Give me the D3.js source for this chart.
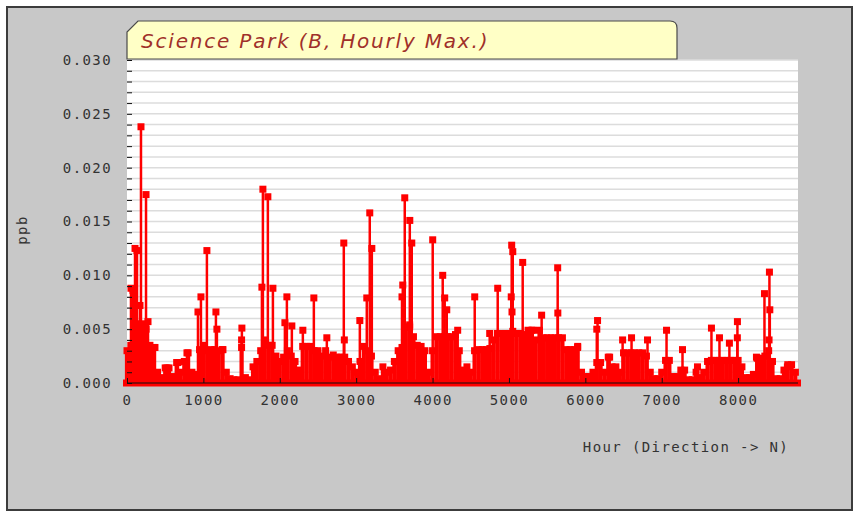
<!DOCTYPE html>
<html>
<head>
<meta charset="utf-8">
<script src="https://cdn.jsdelivr.net/npm/d3@7"></script>
<style>
  body { margin: 0; background: #fff; }
  text { font-family: "DejaVu Sans Mono", monospace; }
</style>
</head>
<body>
<svg width="856" height="515"></svg>
<script>
// Chart text
var title = "Science Park (B, Hourly Max.)";
var xTitle = "Hour (Direction -> N)";
var yTitle = "ppb";

// Tick labels
var xTickValues = [0, 1000, 2000, 3000, 4000, 5000, 6000, 7000, 8000];
var yTickValues = [0, 0.005, 0.010, 0.015, 0.020, 0.025, 0.030];

// Background level of the hourly max, one reading every 50 hours (ppb)
var baseStep = 50;
var baseLevel = [
  0.0030, 0.0035, 0.0040, 0.0055, 0.0055, 0.0050, 0.0035, 0.0033, 0.0010, 0.0005,
  0.0014, 0.0014, 0.0006, 0.0019, 0.0010, 0.0020, 0.0028, 0.0010, 0.0008, 0.0031,
  0.0035, 0.0030, 0.0031, 0.0031, 0.0030, 0.0031, 0.0010, 0.0004, 0.0003, 0.0003,
  0.0033, 0.0005, 0.0003, 0.0015, 0.0020, 0.0030, 0.0040, 0.0035, 0.0035, 0.0025,
  0.0020, 0.0024, 0.0030, 0.0025, 0.0020, 0.0012, 0.0034, 0.0034, 0.0034, 0.0030,
  0.0030, 0.0025, 0.0030, 0.0024, 0.0026, 0.0024, 0.0024, 0.0024, 0.0020, 0.0015,
  0.0010, 0.0020, 0.0034, 0.0030, 0.0025, 0.0010, 0.0004, 0.0015, 0.0010, 0.0012,
  0.0020, 0.0030, 0.0033, 0.0052, 0.0052, 0.0043, 0.0035, 0.0034, 0.0030, 0.0010,
  0.0030, 0.0043, 0.0043, 0.0043, 0.0043, 0.0043, 0.0045, 0.0030, 0.0012, 0.0015,
  0.0010, 0.0030, 0.0031, 0.0031, 0.0031, 0.0032, 0.0040, 0.0046, 0.0046, 0.0046,
  0.0046, 0.0048, 0.0046, 0.0046, 0.0045, 0.0049, 0.0049, 0.0040, 0.0049, 0.0042,
  0.0042, 0.0042, 0.0042, 0.0042, 0.0042, 0.0031, 0.0031, 0.0031, 0.0034, 0.0010,
  0.0006, 0.0006, 0.0010, 0.0019, 0.0019, 0.0010, 0.0024, 0.0015, 0.0015, 0.0010,
  0.0028, 0.0028, 0.0028, 0.0028, 0.0028, 0.0028, 0.0025, 0.0010, 0.0004, 0.0004,
  0.0010, 0.0021, 0.0021, 0.0006, 0.0006, 0.0012, 0.0012, 0.0003, 0.0003, 0.0010,
  0.0005, 0.0010, 0.0020, 0.0021, 0.0021, 0.0021, 0.0021, 0.0021, 0.0021, 0.0021,
  0.0021, 0.0015, 0.0005, 0.0005, 0.0008, 0.0023, 0.0023, 0.0025, 0.0030, 0.0020,
  0.0004, 0.0004, 0.0012, 0.0017, 0.0017, 0.0010
];

// Individual spikes above the background
var peakHours = [
  52, 78, 105, 131, 170, 183, 249, 275, 366, 523,
  667, 785, 929, 968, 1046, 1164, 1177, 1256, 1500, 1504,
  1766, 1779, 1844, 1910, 2067, 2093, 2158, 2302, 2446, 2616,
  2838, 2845, 3048, 3139, 3178, 3205, 3600, 3610, 3636, 3700,
  3702, 3728, 4002, 4133, 4159, 4186, 4329, 4552, 4748, 4853,
  5030, 5036, 5040, 5050, 5180, 5311, 5428, 5638, 5640, 5899,
  6150, 6160, 6318, 6488, 6605, 6814, 7063, 7272, 7468, 7651,
  7756, 7886, 7990, 7991, 8240, 8345, 8405, 8410, 8415, 8645
];
var peakValues = [
  0.0088, 0.0086, 0.0125, 0.0123, 0.0072, 0.0238, 0.0175, 0.0057, 0.0033, 0.0014,
  0.0019, 0.0028, 0.0066, 0.0080, 0.0123, 0.0066, 0.0050, 0.0031, 0.0040, 0.0051,
  0.0089, 0.0180, 0.0173, 0.0088, 0.0056, 0.0080, 0.0053, 0.0049, 0.0079, 0.0042,
  0.0130, 0.0040, 0.0058, 0.0079, 0.0158, 0.0125, 0.0080, 0.0091, 0.0172, 0.0054,
  0.0151, 0.0130, 0.0133, 0.0100, 0.0079, 0.0068, 0.0049, 0.0080, 0.0046, 0.0088,
  0.0080, 0.0128, 0.0066, 0.0122, 0.0112, 0.0049, 0.0063, 0.0107, 0.0065, 0.0033,
  0.0050, 0.0058, 0.0024, 0.0040, 0.0042, 0.0040, 0.0049, 0.0031, 0.0015, 0.0051,
  0.0042, 0.0037, 0.0042, 0.0057, 0.0024, 0.0083, 0.0040, 0.0103, 0.0068, 0.0015
];

var svg = d3.select("svg");

var x = d3.scaleLinear().domain([0, 8784]).range([127, 798]);
var y = d3.scaleLinear().domain([0, 0.030]).range([383, 60]);

// outer panel
svg.append("rect")
  .attr("x", 7).attr("y", 7)
  .attr("width", 845).attr("height", 503)
  .attr("fill", "#c8c8c8")
  .attr("stroke", "#3c3c3c")
  .attr("stroke-width", 2);

// plot area
svg.append("rect")
  .attr("x", x(0)).attr("y", y(0.030))
  .attr("width", x(8784) - x(0))
  .attr("height", y(0) - y(0.030))
  .attr("fill", "#fff");

// horizontal grid every 0.001
svg.append("g")
  .selectAll("line")
  .data(y.ticks(30).filter((d) => d > 0))
  .enter()
  .append("line")
  .attr("x1", x(0)).attr("x2", x(8784))
  .attr("y1", (d) => y(d)).attr("y2", (d) => y(d))
  .attr("stroke", "#dcdcdc")
  .attr("stroke-width", 1.5);

// title tab
svg.append("path")
  .attr("d", "M127,59 V32 L138,21 H670 Q677,21 677,28 V59 Z")
  .attr("fill", "#ffffc6")
  .attr("stroke", "#4a4a4a")
  .attr("stroke-width", 1.2);

svg.append("text")
  .attr("x", 141).attr("y", 48)
  .style("font-family", "'DejaVu Sans', sans-serif")
  .style("font-style", "italic")
  .style("font-size", "20px")
  .style("letter-spacing", "1.8px")
  .attr("fill", "#a0302a")
  .text(title);

// data
var base = baseLevel.map((v, i) => ({ hour: i * baseStep, value: v }));
var peaks = peakHours.map((h, i) => ({ hour: h, value: peakValues[i] }));

const g = svg.append("g").attr("class", "main-container");

// readings at zero form the thick band along the bottom
g.append("line")
  .attr("x1", x(0) - 4).attr("x2", x(8784) + 3)
  .attr("y1", y(0)).attr("y2", y(0))
  .attr("stroke", "#ff0000")
  .attr("stroke-width", 7);

function drawStems(data, cls, width) {
  g.selectAll("line." + cls)
    .data(data)
    .enter()
    .append("line")
    .attr("class", cls)
    .attr("x1", (d) => x(d.hour)).attr("x2", (d) => x(d.hour))
    .attr("y1", y(0)).attr("y2", (d) => y(d.value))
    .attr("stroke", "#ff0000")
    .attr("stroke-width", width);

  g.selectAll("rect." + cls)
    .data(data)
    .enter()
    .append("rect")
    .attr("class", cls)
    .attr("x", (d) => x(d.hour) - 3.5)
    .attr("y", (d) => y(d.value) - 3.5)
    .attr("width", 7).attr("height", 7)
    .attr("fill", "#ff0000");
}

drawStems(base, "base", 4.2);
drawStems(peaks, "peak", 2.5);

// y axis: minor ticks every 0.001, labels every 0.005
svg.append("g")
  .attr("transform", `translate(${x(0)},0)`)
  .call(d3.axisLeft(y).ticks(30).tickSize(-5).tickFormat(""))
  .call((a) => a.select(".domain").remove())
  .call((a) => a.selectAll("line").attr("stroke", "#111"));

svg.append("g")
  .attr("transform", `translate(${x(0)},0)`)
  .call(d3.axisLeft(y).tickValues(yTickValues).tickSize(0).tickPadding(15).tickFormat(d3.format(".3f")))
  .call((a) => a.select(".domain").remove())
  .call((a) => a.selectAll("text")
    .style("font-family", "'DejaVu Sans Mono', monospace")
    .style("font-size", "14px")
    .style("letter-spacing", "1.4px")
    .attr("fill", "#333"));

// x axis
svg.append("g")
  .attr("transform", `translate(0,${y(0)})`)
  .call(d3.axisBottom(x).tickValues(xTickValues).tickSize(-5).tickPadding(12).tickFormat(d3.format("d")))
  .call((a) => a.select(".domain").attr("stroke", "#111").attr("d", `M${x(0)},0H${x(8784)}`))
  .call((a) => a.selectAll("line").attr("stroke", "#111"))
  .call((a) => a.selectAll("text")
    .style("font-family", "'DejaVu Sans Mono', monospace")
    .style("font-size", "14px")
    .style("letter-spacing", "1.4px")
    .attr("fill", "#333"));

// axis titles
svg.append("text")
  .attr("x", 686).attr("y", 452)
  .attr("text-anchor", "middle")
  .style("font-size", "14px")
  .style("letter-spacing", "1.4px")
  .attr("fill", "#333")
  .text(xTitle);

svg.append("text")
  .attr("transform", "translate(27,230) rotate(-90)")
  .attr("text-anchor", "middle")
  .style("font-size", "14px")
  .style("letter-spacing", "1.4px")
  .attr("fill", "#333")
  .text(yTitle);
</script>
</body>
</html>
